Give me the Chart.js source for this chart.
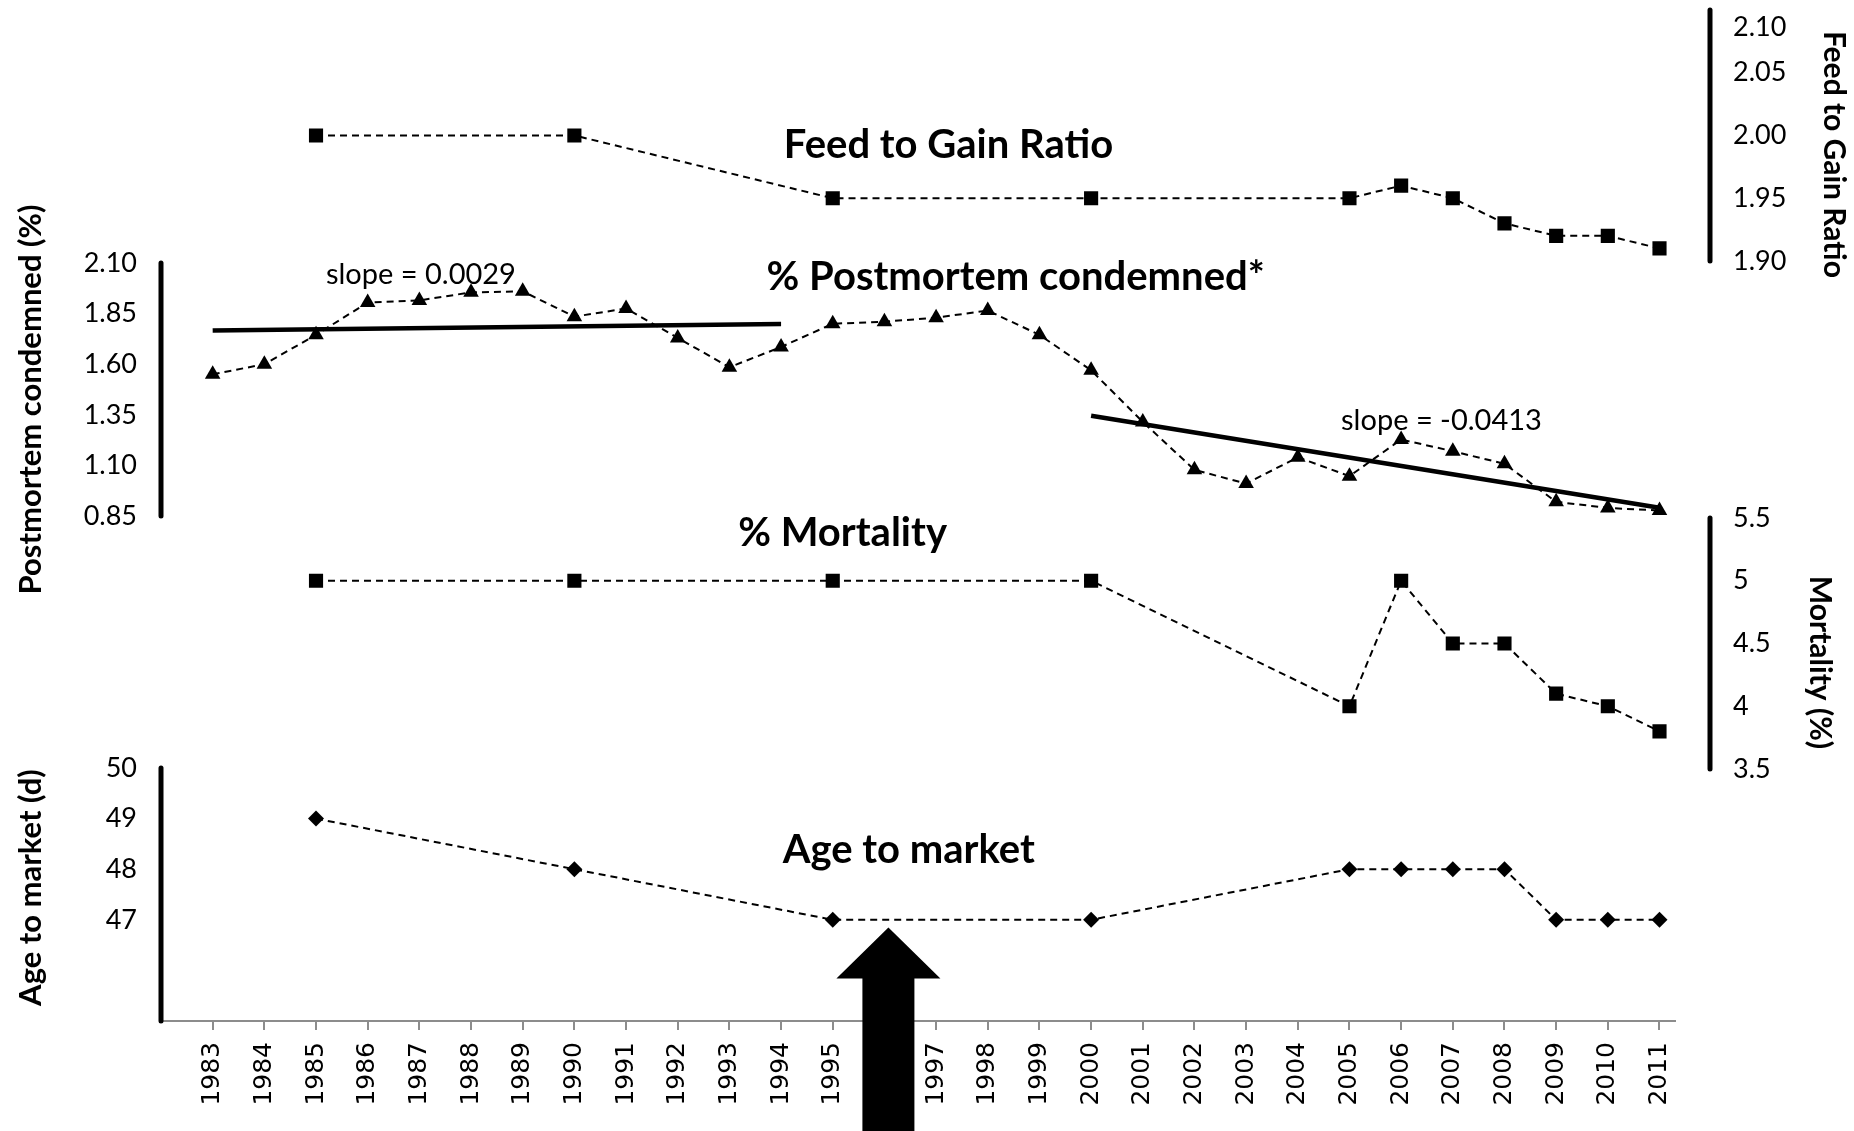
<!DOCTYPE html>
<html>
<head>
<meta charset="utf-8">
<script src="https://cdn.jsdelivr.net/npm/chart.js@4/dist/chart.umd.min.js"></script>
<style>
  html, body { margin: 0; padding: 0; background: #ffffff; }
  #wrap { width: 1854px; height: 1131px; position: relative; }
</style>
</head>
<body>
<div id="wrap"><canvas id="chart"></canvas></div>
<script>
// ---------------- data ----------------
const years = [1983, 1984, 1985, 1986, 1987, 1988, 1989, 1990, 1991, 1992, 1993, 1994, 1995, 1996,
               1997, 1998, 1999, 2000, 2001, 2002, 2003, 2004, 2005, 2006, 2007, 2008, 2009, 2010, 2011];
const postmortem = [1.55, 1.60, 1.745, 1.905, 1.915, 1.955, 1.96, 1.835, 1.875, 1.73, 1.585, 1.685, 1.80, 1.81,
                    1.83, 1.865, 1.745, 1.57, 1.315, 1.078, 1.01, 1.14, 1.047, 1.228, 1.17, 1.108, 0.92, 0.89, 0.877];
const surveyYears = [1985, 1990, 1995, 2000, 2005, 2006, 2007, 2008, 2009, 2010, 2011];
const feedToGain  = [2.00, 2.00, 1.95, 1.95, 1.95, 1.96, 1.95, 1.93, 1.92, 1.92, 1.91];
const mortality   = [5.0, 5.0, 5.0, 5.0, 4.0, 5.0, 4.5, 4.5, 4.1, 4.0, 3.8];
const ageToMarket = [49, 48, 47, 47, 48, 48, 48, 48, 47, 47, 47];
const trendEarlyYears = [1983, 1994];
const trendEarly      = [1.766, 1.798];
const trendLateYears  = [2000, 2011];
const trendLate       = [1.345, 0.891];

const pmTicks   = [0.85, 1.10, 1.35, 1.60, 1.85, 2.10];
const fgTicks   = [1.90, 1.95, 2.00, 2.05, 2.10];
const mortTicks = [3.5, 4, 4.5, 5, 5.5];
const ageTicks  = [47, 48, 49, 50];

const panelTitles = ['Feed to Gain Ratio', '% Postmortem condemned*', '% Mortality', 'Age to market'];
const slopeLabels = ['slope = 0.0029', 'slope = -0.0413'];
const axisTitles  = ['Postmortem condemned (%)', 'Age to market (d)', 'Feed to Gain Ratio', 'Mortality (%)'];
const arrowYear = 1996;

// ---------------- helpers ----------------
const toPts = (xs, ys) => xs.map((x, i) => ({ x: x, y: ys[i] }));
const FONT = 'Lato';
Chart.defaults.font.family = FONT;
Chart.defaults.color = '#000';

const dashedStyle = {
  borderColor: '#000', backgroundColor: '#000', borderWidth: 2, borderDash: [7, 5],
  pointBackgroundColor: '#000', pointBorderColor: '#000', pointBorderWidth: 0,
  tension: 0, fill: false
};

const LEFT_W = 161, RIGHT_W = 179;
function fitY(w) {
  return function (s) { s.width = w; s.paddingTop = 0; s.paddingBottom = 0; };
}
function fixTicks(arr, nudge) {
  return function (s) {
    s.ticks = arr.map(v => ({ value: nudge ? nudge(v) : v }));
  };
}
const tickFont = { family: FONT, size: 27 };
const leftTitleFont = { family: FONT, size: 31, weight: 'bold' };
const rightTitleFont = { family: FONT, size: 30, weight: 'bold' };

function yAxis(opts) {
  const base = {
    type: 'linear',
    grid: { display: false, drawTicks: false, tickLength: 0 },
    border: { display: false },
    ticks: { autoSkip: false, font: tickFont, color: '#000' }
  };
  return Object.assign(base, opts, { ticks: Object.assign(base.ticks, opts.ticks || {}) });
}

// annotation texts anchored to the chart scales
const annotations = [
  { text: panelTitles[0], x: 1997.24, y: 1.992, axis: 'yFG',   font: 'bold 40px ' + FONT },
  { text: panelTitles[1], x: 1998.54, y: 2.031, axis: 'yPM',   font: 'bold 40px ' + FONT },
  { text: panelTitles[2], x: 1995.19, y: 5.381, axis: 'yMort', font: 'bold 40px ' + FONT },
  { text: panelTitles[3], x: 1996.47, y: 48.386, axis: 'yAge', font: 'bold 40px ' + FONT },
  { text: slopeLabels[0], x: 1987.03, y: 2.041, axis: 'yPM',   font: '29px ' + FONT },
  { text: slopeLabels[1], x: 2006.78, y: 1.3224, axis: 'yPM',  font: '29px ' + FONT }
];

const axisBars = [
  { id: 'yPM',   from: 0.85, to: 2.10, side: 'left' },
  { id: 'yAge',  from: 45,   to: 50,   side: 'left' },
  { id: 'yFG',   from: 1.90, to: 2.10, side: 'right' },
  { id: 'yMort', from: 3.5,  to: 5.5,  side: 'right' }
];

const decorPlugin = {
  id: 'decor',
  afterDatasetsDraw(chart) {
    const ctx = chart.ctx;
    // axis bars
    ctx.save();
    ctx.strokeStyle = '#000';
    ctx.lineWidth = 5;
    ctx.lineCap = 'round';
    axisBars.forEach(b => {
      const s = chart.scales[b.id];
      const x = b.side === 'left' ? s.right : s.left + 35;
      ctx.beginPath();
      ctx.moveTo(x, s.getPixelForValue(b.to));
      ctx.lineTo(x, s.getPixelForValue(b.from));
      ctx.stroke();
    });
    ctx.restore();
    // annotation texts
    ctx.save();
    ctx.fillStyle = '#000';
    ctx.textAlign = 'center';
    ctx.textBaseline = 'middle';
    annotations.forEach(a => {
      ctx.font = a.font;
      ctx.fillText(a.text, chart.scales.x.getPixelForValue(a.x), chart.scales[a.axis].getPixelForValue(a.y));
    });
    ctx.restore();
  },
  afterDraw(chart) {
    const ctx = chart.ctx;
    const cx = chart.scales.x.getPixelForValue(arrowYear) + 4;
    const tipY = chart.scales.yAge.getPixelForValue(46.85);
    const headH = 51, headHalf = 52, shaftHalf = 26;
    ctx.save();
    ctx.fillStyle = '#000';
    ctx.beginPath();
    ctx.moveTo(cx, tipY);
    ctx.lineTo(cx + headHalf, tipY + headH);
    ctx.lineTo(cx + shaftHalf, tipY + headH);
    ctx.lineTo(cx + shaftHalf, chart.height + 2);
    ctx.lineTo(cx - shaftHalf, chart.height + 2);
    ctx.lineTo(cx - shaftHalf, tipY + headH);
    ctx.lineTo(cx - headHalf, tipY + headH);
    ctx.closePath();
    ctx.fill();
    ctx.restore();
  }
};

new Chart(document.getElementById('chart'), {
  type: 'line',
  data: {
    datasets: [
      { label: 'trend 1983-1994', data: toPts(trendEarlyYears, trendEarly), yAxisID: 'yPM',
        borderColor: '#000', borderWidth: 4.5, pointRadius: 0, tension: 0, fill: false },
      { label: 'trend 2000-2011', data: toPts(trendLateYears, trendLate), yAxisID: 'yPM',
        borderColor: '#000', borderWidth: 4.5, pointRadius: 0, tension: 0, fill: false },
      Object.assign({ label: axisTitles[2], data: toPts(surveyYears, feedToGain), yAxisID: 'yFG',
        pointStyle: 'rect', pointRadius: 10 }, dashedStyle),
      Object.assign({ label: axisTitles[0], data: toPts(years, postmortem), yAxisID: 'yPM',
        pointStyle: 'triangle', pointRadius: 9 }, dashedStyle),
      Object.assign({ label: axisTitles[3], data: toPts(surveyYears, mortality), yAxisID: 'yMort',
        pointStyle: 'rect', pointRadius: 10 }, dashedStyle),
      Object.assign({ label: axisTitles[1], data: toPts(surveyYears, ageToMarket), yAxisID: 'yAge',
        pointStyle: 'rectRot', pointRadius: 8 }, dashedStyle)
    ]
  },
  options: {
    responsive: true,
    maintainAspectRatio: false,
    animation: false,
    devicePixelRatio: 1,
    layout: { padding: { left: 0, right: 0, top: 6, bottom: 0 } },
    plugins: { legend: { display: false }, tooltip: { enabled: false } },
    scales: {
      x: {
        type: 'linear', position: 'bottom', min: 1982, max: 2011.3,
        afterBuildTicks: fixTicks(years),
        afterFit: s => { s.height = 110; s.paddingLeft = 0; s.paddingRight = 0; },
        ticks: { autoSkip: false, minRotation: 90, maxRotation: 90, padding: 12, color: '#000',
                 font: { family: 'DejaVu Sans', size: 25 }, callback: v => String(v) },
        grid: { drawOnChartArea: false, drawTicks: true, tickLength: 9, color: '#8c8c8c', lineWidth: 2 },
        border: { display: true, color: '#8c8c8c', width: 2 }
      },
      gapL1: { type: 'linear', display: false, position: 'left', stack: 'L', stackWeight: 254, weight: 4 },
      yPM: yAxis({
        position: 'left', stack: 'L', stackWeight: 274, weight: 3, min: 0.7516, max: 2.10,
        afterFit: fitY(LEFT_W), afterBuildTicks: fixTicks(pmTicks),
        ticks: { padding: 24, callback: (v, i) => pmTicks[i].toFixed(2) },
        title: { display: true, text: axisTitles[0], font: leftTitleFont, color: '#000', padding: { top: 12, bottom: 0 } }
      }),
      gapL2: { type: 'linear', display: false, position: 'left', stack: 'L', stackWeight: 219, weight: 2 },
      yAge: yAxis({
        position: 'left', stack: 'L', stackWeight: 268, weight: 1, min: 45, max: 50.2756,
        afterFit: fitY(LEFT_W), afterBuildTicks: fixTicks(ageTicks),
        ticks: { padding: 24, callback: (v, i) => String(ageTicks[i]) },
        title: { display: true, text: axisTitles[1], font: leftTitleFont, color: '#000', padding: { top: 12, bottom: 0 } }
      }),
      yFG: yAxis({
        position: 'right', stack: 'R', stackWeight: 290, weight: 1, min: 1.8698, max: 2.10,
        afterFit: fitY(RIGHT_W),
        afterBuildTicks: fixTicks(fgTicks, v => (v === fgTicks[fgTicks.length - 1] ? v - 0.0135 : v)),
        ticks: { padding: 58, callback: (v, i) => fgTicks[i].toFixed(2) },
        title: { display: true, text: axisTitles[2], font: rightTitleFont, color: '#000', padding: { top: 2, bottom: 0 } }
      }),
      gapR1: { type: 'linear', display: false, position: 'right', stack: 'R', stackWeight: 220, weight: 2 },
      yMort: yAxis({
        position: 'right', stack: 'R', stackWeight: 290, weight: 3, min: 3.1984, max: 5.5,
        afterFit: fitY(RIGHT_W), afterBuildTicks: fixTicks(mortTicks),
        ticks: { padding: 58, callback: (v, i) => String(mortTicks[i]) },
        title: { display: true, text: axisTitles[3], font: rightTitleFont, color: '#000', padding: { top: 16, bottom: 0 } }
      }),
      gapR2: { type: 'linear', display: false, position: 'right', stack: 'R', stackWeight: 215, weight: 4 }
    }
  },
  plugins: [decorPlugin]
});
</script>
</body>
</html>
